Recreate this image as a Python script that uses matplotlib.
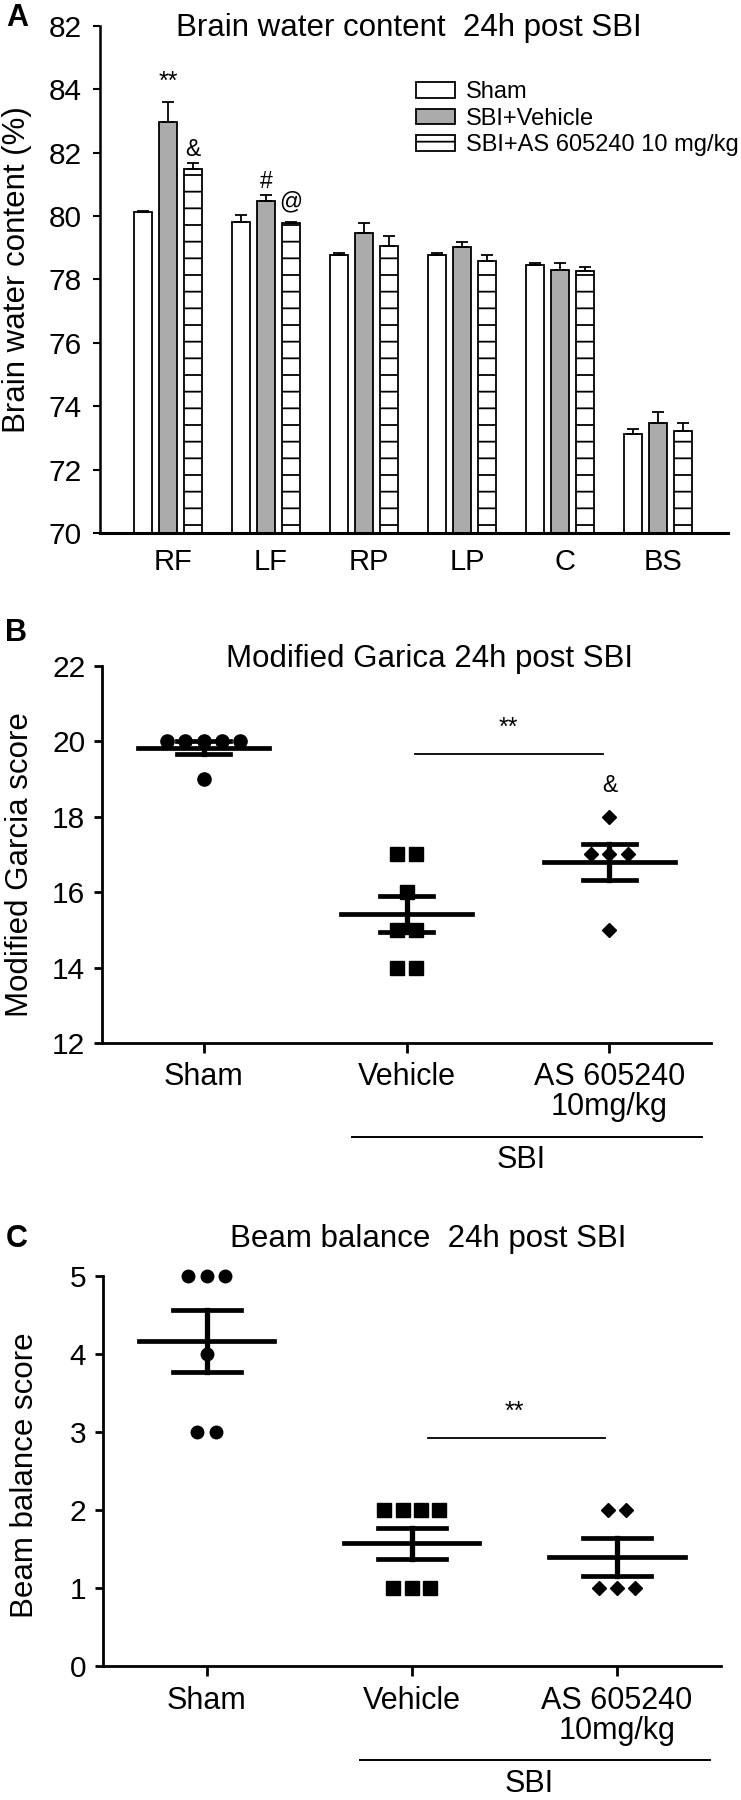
import numpy as np
import matplotlib
matplotlib.use('Agg')
import matplotlib.pyplot as plt

plt.rcParams['font.family'] = ['Liberation Sans', 'DejaVu Sans']
plt.rcParams['hatch.linewidth'] = 1.3

# ---- Panel A data: brain water content (%) ----
regions = ['RF', 'LF', 'RP', 'LP', 'C', 'BS']
sham_mean = [80.14, 79.80, 78.77, 78.77, 78.45, 73.12]
sham_err = [0.03, 0.23, 0.08, 0.06, 0.08, 0.17]
veh_mean = [82.96, 80.48, 79.46, 79.03, 78.30, 73.48]
veh_err = [0.65, 0.19, 0.31, 0.16, 0.21, 0.33]
as_mean = [81.50, 79.78, 79.07, 78.59, 78.26, 73.21]
as_err = [0.17, 0.03, 0.29, 0.19, 0.12, 0.27]
a_ticks = [70, 72, 74, 76, 78, 80, 82, 84, 86]
a_ticklabels = ['70', '72', '74', '76', '78', '80', '82', '84', '82']

# ---- Panel B data: modified Garcia score ----
groups = ['Sham', 'Vehicle', 'AS 605240\n10mg/kg']
garcia_sham = [20, 20, 20, 20, 20, 19]
garcia_veh = [17, 17, 16, 15, 15, 14, 14]
garcia_as = [18, 17, 17, 17, 15]

# ---- Panel C data: beam balance score ----
beam_sham = [5, 5, 5, 4, 3, 3]
beam_veh = [2, 2, 2, 2, 1, 1, 1]
beam_as = [2, 2, 1, 1, 1]

fig = plt.figure(figsize=(7.41, 18), dpi=100)

# =================== Panel A ===================
axA = fig.add_axes([0.135, 0.7039, 0.8475, 0.2817])
x = np.arange(len(regions))
w = 0.19
off = 0.255
kw = dict(edgecolor='black', linewidth=1.3, zorder=2)
ekw = dict(ecolor='black', elinewidth=1.3, capsize=4, capthick=1.3)
axA.bar(x - off, sham_mean, w, color='white', label='Sham', **kw)
axA.bar(x, veh_mean, w, color='#ababab', label='SBI+Vehicle', **kw)
axA.bar(x + off, as_mean, w, color='white', hatch='-', label='SBI+AS 605240 10 mg/kg', **kw)
axA.errorbar(x - off, sham_mean, yerr=[np.zeros(6), sham_err], fmt='none', **ekw)
axA.errorbar(x, veh_mean, yerr=[np.zeros(6), veh_err], fmt='none', **ekw)
axA.errorbar(x + off, as_mean, yerr=[np.zeros(6), as_err], fmt='none', **ekw)
axA.set_ylim(70, 86)
axA.set_xlim(-0.694, 5.714)
axA.set_yticks(a_ticks)
axA.set_yticklabels(a_ticklabels)
axA.set_xticks(x + 0.05)
axA.set_xticklabels(regions)
axA.tick_params(axis='y', labelsize=21.5, length=5, width=1.5, pad=8)
axA.tick_params(axis='x', labelsize=21, length=0, pad=11)
for s in ['top', 'right']:
    axA.spines[s].set_visible(False)
axA.spines['left'].set_linewidth(1.8)
axA.spines['bottom'].set_linewidth(2.2)
axA.set_ylabel('Brain water content (%)', fontsize=22.5)
axA.yaxis.set_label_coords(-0.108, 0.519)
fig.text(0.552, 0.9844, 'Brain water content  24h post SBI', fontsize=22.5,
         ha='center', va='center')
axA.text(x[0], 84.25, '**', ha='center', va='center', fontsize=18)
axA.text(x[0] + off, 82.1, '&', ha='center', va='center', fontsize=16.5)
axA.text(x[1], 81.1, '#', ha='center', va='center', fontsize=16.5)
axA.text(x[1] + off, 80.45, '@', ha='center', va='center', fontsize=16.5)
axA.legend(loc='upper left', bbox_to_anchor=(0.562, 0.955), bbox_transform=fig.transFigure,
           frameon=False, fontsize=17, handlelength=1.65, handleheight=0.64,
           handletextpad=0.45, labelspacing=0.2, borderpad=0, borderaxespad=0)
fig.text(0.023, 0.99, 'A', fontsize=22, fontweight='bold', ha='center', va='center')


def scatter_panel(ax, datasets, markers, msizes, dx, half_mean, half_cap):
    for i, (vals, m, ms) in enumerate(zip(datasets, markers, msizes)):
        vals = np.array(vals, dtype=float)
        for v in np.unique(vals):
            n = np.sum(vals == v)
            xs = i + (np.arange(n) - (n - 1) / 2) * dx
            ax.plot(xs, [v] * n, linestyle='none', marker=m, markersize=ms,
                    color='black', zorder=3, clip_on=False)
        mean = vals.mean()
        sem = vals.std(ddof=1) / np.sqrt(len(vals))
        ax.plot([i - half_mean, i + half_mean], [mean, mean], color='black', lw=3.4, zorder=4)
        ax.plot([i, i], [mean - sem, mean + sem], color='black', lw=3.8, zorder=4)
        for yy in (mean - sem, mean + sem):
            ax.plot([i - half_cap, i + half_cap], [yy, yy], color='black', lw=3.4, zorder=4)


def style_scatter_axes(ax):
    for s in ['top', 'right']:
        ax.spines[s].set_visible(False)
    ax.spines['left'].set_linewidth(2)
    ax.spines['bottom'].set_linewidth(2)
    ax.set_xticks(range(3))
    ax.set_xticklabels(groups, linespacing=1.0)
    ax.tick_params(axis='y', labelsize=21.5, length=6, width=2, pad=6)
    ax.tick_params(axis='x', labelsize=22, length=7, width=2, pad=7)


def sbi_bracket(ax, x0, x1, yline, xtext, ytext):
    ax.plot([x0, x1], [yline, yline], transform=ax.transAxes, clip_on=False,
            color='black', lw=1.4)
    ax.text(xtext, ytext, 'SBI', transform=ax.transAxes, ha='center', va='center',
            fontsize=22)


# =================== Panel B ===================
axB = fig.add_axes([0.1377, 0.4206, 0.8218, 0.2094])
scatter_panel(axB, [garcia_sham, garcia_veh, garcia_as], ['o', 's', 'D'], [9.5, 10, 7],
              0.09, 0.325, 0.13)
axB.set_xlim(-0.5, 2.5)
axB.set_ylim(12, 22)
axB.set_yticks([12, 14, 16, 18, 20, 22])
style_scatter_axes(axB)
axB.set_ylabel('Modified Garcia score', fontsize=22.5)
axB.yaxis.set_label_coords(-0.11, 0.472)
fig.text(0.579, 0.6339, 'Modified Garica 24h post SBI', fontsize=22.5, ha='center', va='center')
axB.plot([1.04, 1.97], [19.67, 19.67], color='black', lw=1.3)
axB.text(1.5, 20.35, '**', ha='center', va='center', fontsize=18)
axB.text(2, 18.83, '&', ha='center', va='center', fontsize=16.5)
sbi_bracket(axB, 0.41, 0.985, -0.249, 0.688, -0.31)
fig.text(0.022, 0.6483, 'B', fontsize=22, fontweight='bold', ha='center', va='center')

# =================== Panel C ===================
axC = fig.add_axes([0.139, 0.0744, 0.834, 0.2167])
scatter_panel(axC, [beam_sham, beam_veh, beam_as], ['o', 's', 'D'], [9, 10, 7.5],
              0.09, 0.33, 0.166)
axC.set_xlim(-0.505, 2.507)
axC.set_ylim(0, 5)
axC.set_yticks([0, 1, 2, 3, 4, 5])
style_scatter_axes(axC)
axC.set_ylabel('Beam balance score', fontsize=22.5)
axC.yaxis.set_label_coords(-0.102, 0.49)
fig.text(0.578, 0.3117, 'Beam balance  24h post SBI', fontsize=22.5, ha='center', va='center')
axC.plot([1.08, 1.94], [2.92, 2.92], color='black', lw=1.3)
axC.text(1.5, 3.26, '**', ha='center', va='center', fontsize=18)
sbi_bracket(axC, 0.416, 0.983, -0.241, 0.69, -0.303)
fig.text(0.023, 0.3117, 'C', fontsize=22, fontweight='bold', ha='center', va='center')

fig.savefig('out.png', dpi=100)
